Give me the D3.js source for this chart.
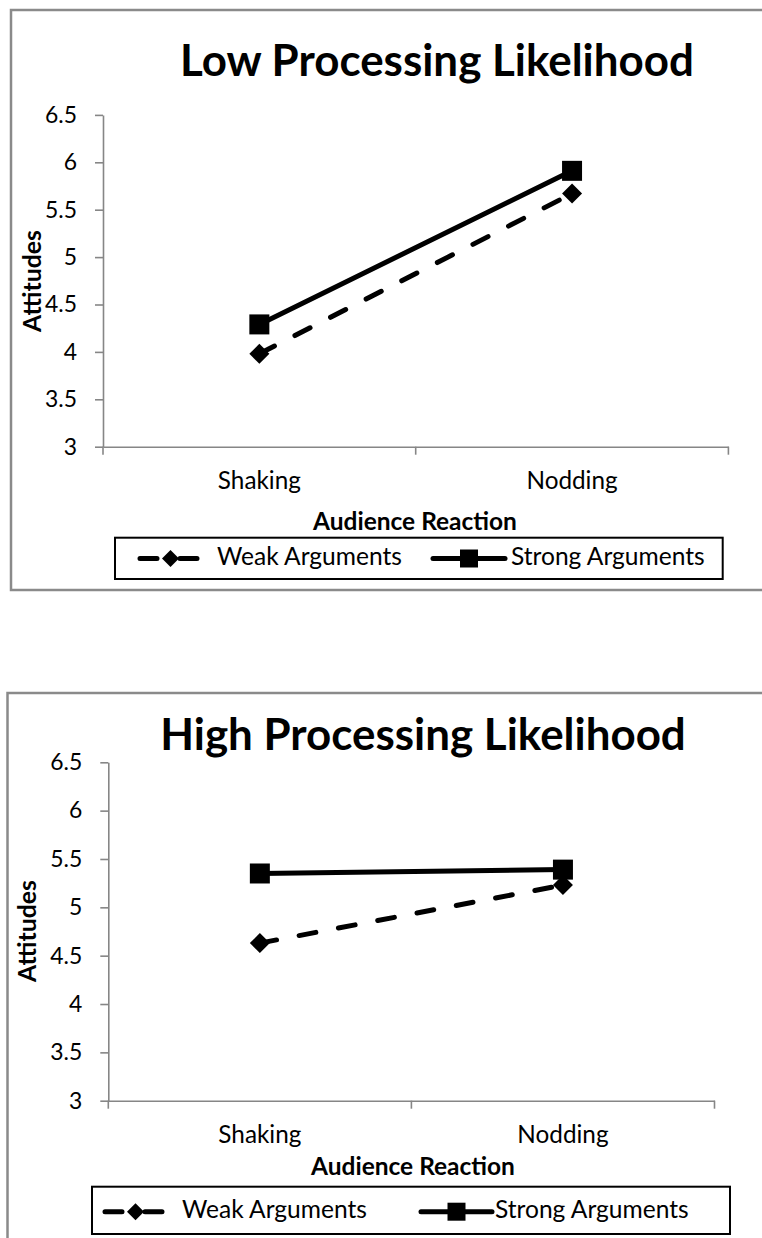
<!DOCTYPE html>
<html>
<head>
<meta charset="utf-8">
<script src="https://cdn.jsdelivr.net/npm/d3@7"></script>
<style>
  html, body { margin: 0; padding: 0; background: #fff; }
  svg { display: block; }
  text { font-family: Lato, "Open Sans", "Noto Sans", sans-serif; fill: #000; }
</style>
</head>
<body>
<svg id="chart" width="762" height="1238"></svg>
<script>
// ---- data ----
const categories = ["Shaking", "Nodding"];
const yTicks = [3, 3.5, 4, 4.5, 5, 5.5, 6, 6.5];
const seriesNames = ["Weak Arguments", "Strong Arguments"];
const panelTitles = ["Low Processing Likelihood", "High Processing Likelihood"];
const xAxisTitle = "Audience Reaction";
const yAxisTitle = "Attitudes";

const lowWeak = [3.98, 5.67];
const lowStrong = [4.29, 5.91];
const highWeak = [4.63, 5.23];
const highStrong = [5.35, 5.39];

// ---- layout ----
const AXIS_GREY = "#868686";
const FRAME_GREY = "#8a8a8a";

const panels = [
  {
    title: panelTitles[0], weak: lowWeak, strong: lowStrong,
    frame: { x: 11, y: 10, w: 800, h: 580 },
    plot: { x0: 103, x1: 728.4, yTop: 114.9, yBottom: 446.7 },
    titleX: 437, titleY: 76,
    yTitleX: 32.5, yTitleY: 281,
    catY: 489.3, xTitleX: 415, xTitleY: 530,
    legend: { x: 115, y: 537.7, w: 607.7, h: 41.3, lineY: 558.5, textY: 565,
              items: [{ x0: 140, x1: 201, tx: 217 }, { x0: 433, x1: 505, tx: 511 }] }
  },
  {
    title: panelTitles[1], weak: highWeak, strong: highStrong,
    frame: { x: 7.5, y: 693, w: 800, h: 600 },
    plot: { x0: 108.3, x1: 714.5, yTop: 762.3, yBottom: 1100.7 },
    titleX: 423, titleY: 750,
    yTitleX: 27.5, yTitleY: 931,
    catY: 1143.3, xTitleX: 413, xTitleY: 1175,
    legend: { x: 92, y: 1186.7, w: 638, h: 47.3, lineY: 1211.7, textY: 1217.7,
              items: [{ x0: 105, x1: 166, tx: 182 }, { x0: 421, x1: 492, tx: 495 }] }
  }
];

const svg = d3.select("#chart");

// font size that makes a sample string span a given width
function sizeFor(str, weight, width) {
  const t = svg.append("text").attr("font-size", 100).attr("font-weight", weight).text(str);
  const w = t.node().getComputedTextLength();
  t.remove();
  return 100 * width / w;
}
const tickFont = sizeFor("5.5", 400, 32);
const catFont = sizeFor("Shaking", 400, 83);
const legendFont = sizeFor("Weak Arguments", 400, 185);
const xTitleFont = sizeFor(xAxisTitle, 700, 204);
const yTitleFont = sizeFor(yAxisTitle, 700, 102);
const titleFont = sizeFor(panelTitles[0], 700, 514);

const DASH = "17,23";
const LINE_W = 5;

function marker(sel, kind, size) {
  if (kind === "diamond") {
    const side = size / Math.SQRT2;
    sel.attr("d", d3.symbol(d3.symbolSquare, side * side)())
       .attr("transform", function () { return d3.select(this).attr("transform") + " rotate(45)"; });
  } else {
    sel.attr("d", d3.symbol(d3.symbolSquare, size * size)());
  }
}

panels.forEach(p => {
  const g = svg.append("g");

  // chart frame
  g.append("rect")
    .attr("x", p.frame.x).attr("y", p.frame.y)
    .attr("width", p.frame.w).attr("height", p.frame.h)
    .attr("fill", "none").attr("stroke", FRAME_GREY).attr("stroke-width", 2.5);

  // title
  g.append("text")
    .attr("x", p.titleX).attr("y", p.titleY)
    .attr("text-anchor", "middle").attr("font-weight", 700)
    .attr("font-size", titleFont).text(p.title);

  const x = d3.scaleBand().domain(categories).range([p.plot.x0, p.plot.x1]).padding(0);
  const y = d3.scaleLinear().domain([3, 6.5]).range([p.plot.yBottom, p.plot.yTop]);
  const cx = c => x(c) + x.bandwidth() / 2;

  // y axis
  const yAxis = g.append("g")
    .attr("transform", `translate(${p.plot.x0},0)`)
    .call(d3.axisLeft(y).tickValues(yTicks).tickSize(8).tickSizeOuter(0)
      .tickPadding(18).tickFormat(d3.format("~g")));
  yAxis.select(".domain").attr("stroke", AXIS_GREY).attr("stroke-width", 1.6);
  yAxis.selectAll(".tick line").attr("stroke", AXIS_GREY).attr("stroke-width", 1.6);
  yAxis.selectAll(".tick text").attr("font-size", tickFont).attr("font-family", null).attr("fill", "#000");
  yAxis.attr("font-family", null);

  // x axis: baseline with ticks between categories
  const xAxis = g.append("g")
    .attr("transform", `translate(0,${p.plot.yBottom})`)
    .call(d3.axisBottom(x).tickSize(0).tickSizeOuter(0).tickPadding(0).tickFormat(""));
  xAxis.select(".domain").attr("stroke", AXIS_GREY).attr("stroke-width", 1.6);
  xAxis.selectAll(".tick").remove();
  const bounds = categories.map(c => x(c)).concat([x(categories[categories.length - 1]) + x.bandwidth()]);
  xAxis.selectAll("line.bound").data(bounds).join("line")
    .attr("class", "bound")
    .attr("x1", d => d).attr("x2", d => d)
    .attr("y1", 0).attr("y2", 8)
    .attr("stroke", AXIS_GREY).attr("stroke-width", 1.6);

  // category labels
  g.selectAll("text.cat").data(categories).join("text")
    .attr("class", "cat")
    .attr("x", d => cx(d)).attr("y", p.catY)
    .attr("text-anchor", "middle").attr("font-size", catFont).text(d => d);

  // axis titles
  g.append("text")
    .attr("x", p.xTitleX).attr("y", p.xTitleY)
    .attr("text-anchor", "middle").attr("font-weight", 700)
    .attr("font-size", xTitleFont).text(xAxisTitle);
  g.append("text")
    .attr("transform", `translate(${p.yTitleX},${p.yTitleY}) rotate(-90)`)
    .attr("text-anchor", "middle").attr("dy", "0.36em").attr("font-weight", 700)
    .attr("font-size", yTitleFont).text(yAxisTitle);

  // series
  const series = [
    { name: seriesNames[0], values: p.weak, dash: DASH, kind: "diamond", size: 20 },
    { name: seriesNames[1], values: p.strong, dash: null, kind: "square", size: 20 }
  ];
  const line = d3.line().x((v, i) => cx(categories[i])).y(v => y(v));

  series.forEach(s => {
    g.append("path")
      .datum(s.values)
      .attr("d", line)
      .attr("fill", "none").attr("stroke", "#000")
      .attr("stroke-width", LINE_W)
      .attr("stroke-linecap", "round")
      .attr("stroke-dasharray", s.dash);
    g.selectAll(null).data(s.values).join("path")
      .attr("transform", (v, i) => `translate(${cx(categories[i])},${y(v)})`)
      .attr("fill", "#000")
      .call(sel => marker(sel, s.kind, s.size));
  });

  // legend
  const L = p.legend;
  g.append("rect")
    .attr("x", L.x).attr("y", L.y).attr("width", L.w).attr("height", L.h)
    .attr("fill", "#fff").attr("stroke", "#000").attr("stroke-width", 2);
  series.forEach((s, i) => {
    const it = L.items[i];
    g.append("line")
      .attr("x1", it.x0).attr("x2", it.x1).attr("y1", L.lineY).attr("y2", L.lineY)
      .attr("stroke", "#000").attr("stroke-width", LINE_W)
      .attr("stroke-linecap", "round").attr("stroke-dasharray", s.dash);
    g.append("path")
      .attr("transform", `translate(${(it.x0 + it.x1) / 2},${L.lineY})`)
      .attr("fill", "#000")
      .call(sel => marker(sel, s.kind, s.kind === "square" ? 18 : 17));
    g.append("text")
      .attr("x", it.tx).attr("y", L.textY)
      .attr("font-size", legendFont).text(s.name);
  });
});
</script>
</body>
</html>
